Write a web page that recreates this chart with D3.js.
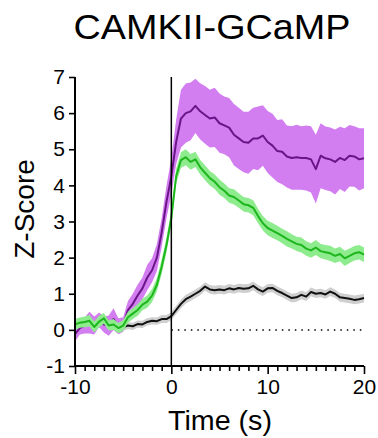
<!DOCTYPE html>
<html>
<head>
<meta charset="utf-8">
<script src="https://cdn.jsdelivr.net/npm/d3@7"></script>
<style>
  html, body { margin: 0; padding: 0; background: #fff; }
  svg { display: block; font-family: "Liberation Sans", Arial, Helvetica, sans-serif; }
</style>
</head>
<body>
<svg id="chart" width="378" height="438"></svg>
<script>
// Sample times (s) relative to event onset
const times = [
  -10, -9.5, -9, -8.5, -8, -7.5, -7, -6.5, -6, -5.5, -5, -4.5, -4, -3.5, -3, -2.5, -2, -1.5, -1, -0.5,
  0, 0.5, 1, 1.5, 2, 2.5, 3, 3.5, 4, 4.5, 5, 5.5, 6, 6.5, 7, 7.5, 8, 8.5, 9, 9.5,
  10, 10.5, 11, 11.5, 12, 12.5, 13, 13.5, 14, 14.5, 15, 15.5, 16, 16.5, 17, 17.5, 18, 18.5, 19, 19.5, 20
];

// Purple trace: mean z-score and SEM
const purpleMean = [
  -0.12, 0.05, 0.12, 0.2, 0.12, 0.28, 0.15, 0.12, 0.3, 0.1, 0.15, 0.55, 0.72, 0.95, 1.15, 1.45, 1.65, 2.0, 2.7, 3.55,
  4.25, 5.2, 5.85, 6.0, 6.05, 6.2, 6.05, 5.95, 5.85, 5.88, 5.72, 5.66, 5.6, 5.4, 5.3, 5.2, 5.18, 5.3, 5.3, 5.38,
  5.2, 5.1, 4.95, 4.93, 4.8, 4.76, 4.78, 4.76, 4.76, 4.72, 4.45, 4.82, 4.75, 4.72, 4.65, 4.76, 4.7, 4.82, 4.8, 4.72, 4.75
];
const purpleSem = [
  0.2, 0.18, 0.22, 0.3, 0.25, 0.2, 0.22, 0.28, 0.3, 0.22, 0.2, 0.25, 0.28, 0.3, 0.3, 0.35, 0.33, 0.38, 0.4, 0.45,
  0.5, 0.62, 0.8, 0.82, 0.8, 0.75, 0.78, 0.8, 0.8, 0.82, 0.82, 0.8, 0.82, 0.85, 0.85, 0.84, 0.86, 0.85, 0.88, 0.84,
  0.86, 0.88, 0.86, 0.9, 0.86, 0.88, 0.9, 0.88, 0.9, 0.92, 0.95, 0.9, 0.88, 0.88, 0.9, 0.86, 0.88, 0.85, 0.84, 0.86, 0.83
];

// Green trace: mean z-score and SEM
const greenMean = [
  0.15, 0.2, 0.22, 0.25, 0.08, 0.23, 0.32, 0.12, 0.15, 0.05, 0.12, 0.35, 0.45, 0.55, 0.7, 0.78, 0.95, 1.25, 1.75, 2.35,
  3.1, 4.25, 4.7, 4.78, 4.65, 4.72, 4.5, 4.35, 4.2, 4.1, 3.95, 3.85, 3.72, 3.68, 3.58, 3.48, 3.45, 3.38, 3.15, 2.95,
  2.82, 2.75, 2.68, 2.6, 2.52, 2.45, 2.38, 2.35, 2.25, 2.2, 2.28, 2.18, 2.15, 2.12, 2.05, 2.1, 1.98, 2.05, 2.12, 2.15, 2.08
];
const greenSem = [
  0.15, 0.14, 0.15, 0.16, 0.15, 0.16, 0.15, 0.14, 0.15, 0.14, 0.15, 0.15, 0.15, 0.16, 0.16, 0.17, 0.18, 0.18, 0.2, 0.2,
  0.2, 0.2, 0.22, 0.22, 0.22, 0.21, 0.2, 0.21, 0.2, 0.2, 0.21, 0.2, 0.2, 0.21, 0.2, 0.2, 0.2, 0.21, 0.2, 0.2,
  0.2, 0.21, 0.2, 0.2, 0.21, 0.2, 0.2, 0.21, 0.2, 0.2, 0.21, 0.2, 0.2, 0.21, 0.2, 0.2, 0.21, 0.2, 0.2, 0.2, 0.2
];

// Black trace: mean z-score and SEM
const blackMean = [
  0.15, 0.2, 0.18, 0.22, 0.2, 0.15, 0.18, 0.12, 0.15, 0.1, 0.08, 0.12, 0.1, 0.16, 0.15, 0.22, 0.25, 0.24, 0.3, 0.3,
  0.38, 0.55, 0.72, 0.85, 0.92, 1.0, 1.08, 1.2, 1.12, 1.1, 1.12, 1.1, 1.15, 1.12, 1.16, 1.14, 1.15, 1.22, 1.12, 1.06,
  1.15, 1.16, 1.08, 1.02, 0.95, 0.88, 0.9, 0.97, 0.92, 1.05, 1.0, 1.02, 0.98, 1.06, 1.0, 0.9, 0.88, 0.86, 0.83, 0.85, 0.88
];
const blackSem = [
  0.1, 0.1, 0.1, 0.1, 0.1, 0.1, 0.1, 0.1, 0.1, 0.1, 0.1, 0.1, 0.1, 0.1, 0.1, 0.1, 0.1, 0.1, 0.11, 0.11,
  0.11, 0.12, 0.12, 0.12, 0.12, 0.12, 0.12, 0.12, 0.12, 0.12, 0.12, 0.12, 0.12, 0.12, 0.12, 0.12, 0.12, 0.12, 0.12, 0.12,
  0.12, 0.12, 0.12, 0.12, 0.12, 0.12, 0.12, 0.12, 0.12, 0.12, 0.12, 0.12, 0.12, 0.12, 0.12, 0.12, 0.12, 0.12, 0.12, 0.12, 0.12
];

const xMajorTicks = [-10, 0, 10, 20];
const xMinorTicks = [-9, -8, -7, -6, -5, -4, -3, -2, -1, 1, 2, 3, 4, 5, 6, 7, 8, 9, 11, 12, 13, 14, 15, 16, 17, 18, 19];
const yTicks = [-1, 0, 1, 2, 3, 4, 5, 6, 7];

const titleText = "CAMKII-GCaMP";
const xLabel = "Time (s)";
const yLabel = "Z-Score";

// Drawing order: black underneath, then purple, green on top
const series = [
  { mean: blackMean,  sem: blackSem,  line: "#111111", band: "#cfcfcf" },
  { mean: purpleMean, sem: purpleSem, line: "#6a1488", band: "#d27ef0" },
  { mean: greenMean,  sem: greenSem,  line: "#1db61d", band: "#8eec8e" }
];

const svg = d3.select("#chart");
const x = d3.scaleLinear().domain([-10, 20]).range([75, 364]);
const y = d3.scaleLinear().domain([-1, 7]).range([366, 77]);

// Plain hyphen for negative tick labels
const tickFmt = d => String(d);

// Title
svg.append("text")
  .attr("x", 212).attr("y", 39)
  .attr("text-anchor", "middle")
  .attr("font-size", 35)
  .attr("textLength", 277)
  .attr("lengthAdjust", "spacingAndGlyphs")
  .attr("fill", "#000")
  .text(titleText);

const plot = svg.append("g");

// SEM bands and mean lines
series.forEach(s => {
  const pts = times.map((t, i) => ({ t, m: s.mean[i], e: s.sem[i] }));
  plot.append("path")
    .datum(pts)
    .attr("fill", s.band)
    .attr("d", d3.area().x(d => x(d.t)).y0(d => y(d.m - d.e)).y1(d => y(d.m + d.e)));
  plot.append("path")
    .datum(pts)
    .attr("fill", "none")
    .attr("stroke", s.line)
    .attr("stroke-width", 2)
    .attr("stroke-linejoin", "round")
    .attr("d", d3.line().x(d => x(d.t)).y(d => y(d.m)));
});

// Dotted baseline after onset
svg.append("line")
  .attr("x1", x(0)).attr("x2", x(20))
  .attr("y1", y(0)).attr("y2", y(0))
  .attr("stroke", "#000")
  .attr("stroke-width", 1.5)
  .attr("stroke-dasharray", "1.5,5");

// Event onset marker
svg.append("line")
  .attr("x1", x(0)).attr("x2", x(0))
  .attr("y1", y(7)).attr("y2", y(-1))
  .attr("stroke", "#000")
  .attr("stroke-width", 1.5);

// Y axis
const yAxis = svg.append("g")
  .attr("transform", `translate(${x(-10)},0)`)
  .call(d3.axisLeft(y).tickValues(yTicks).tickSize(6).tickPadding(4).tickFormat(tickFmt));

// X axis: major ticks with labels, minor ticks without
const xAxis = svg.append("g")
  .attr("transform", `translate(0,${y(-1)})`)
  .call(d3.axisBottom(x).tickValues(xMajorTicks).tickSize(8).tickPadding(5).tickFormat(tickFmt));
const xMinor = svg.append("g")
  .attr("transform", `translate(0,${y(-1)})`)
  .call(d3.axisBottom(x).tickValues(xMinorTicks).tickSize(5).tickFormat(""));
xMinor.select(".domain").remove();

[yAxis, xAxis, xMinor].forEach(g => {
  g.selectAll(".domain").attr("stroke", "#000").attr("stroke-width", 2);
  g.selectAll(".tick line").attr("stroke", "#000").attr("stroke-width", 1.6);
  g.selectAll(".tick text").attr("font-size", 21).attr("fill", "#000")
    .attr("font-family", "'Liberation Sans', Arial, sans-serif");
});
// Plain axis lines without end caps
yAxis.select(".domain").attr("d", `M0,${y(7)}V${y(-1)}`);
xAxis.select(".domain").attr("d", `M${x(-10)},0H${x(20)}`);

// Axis titles
svg.append("text")
  .attr("x", 220).attr("y", 430)
  .attr("text-anchor", "middle")
  .attr("font-size", 27)
  .attr("textLength", 104)
  .attr("lengthAdjust", "spacingAndGlyphs")
  .attr("fill", "#000")
  .text(xLabel);

svg.append("text")
  .attr("transform", "translate(34,209) rotate(-90)")
  .attr("text-anchor", "middle")
  .attr("font-size", 28)
  .attr("fill", "#000")
  .text(yLabel);
</script>
</body>
</html>
